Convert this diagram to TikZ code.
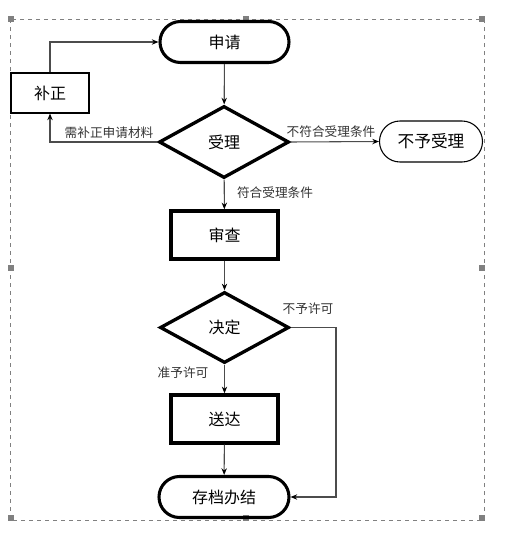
\documentclass[tikz,border=0pt]{standalone}
\usepackage{fontspec}
\newfontfamily\cjk{Noto Sans CJK SC}
\usetikzlibrary{shapes.geometric,shapes.misc,arrows.meta}

\tikzset{
  term/.style={rounded rectangle,draw,line width=2.3pt,font=\cjk\fontsize{12}{14}\selectfont,minimum width=96.75pt,minimum height=30.75pt,inner sep=0pt},
  procbox/.style={rectangle,draw,line width=2.6pt,font=\cjk\fontsize{12}{14}\selectfont,minimum width=80.25pt,minimum height=36pt,inner sep=0pt},
  decide/.style={diamond,draw,line width=2.5pt,font=\cjk\fontsize{12}{14}\selectfont,minimum width=97.5pt,minimum height=54pt,inner sep=0pt},
  lbl/.style={font=\cjk\fontsize{9.5}{11}\selectfont,inner sep=0pt,text=black!80},
  flow/.style={draw=black!70,line width=0.8pt,-{Stealth[length=5pt,width=4pt,color=black]}},
  handle/.style={fill=black!50,minimum size=4pt,inner sep=0pt}
}

\begin{document}
\begin{tikzpicture}[x=0.75pt,y=-0.75pt]
\useasboundingbox (0,0) rectangle (524,546);
\draw[black!50,dashed,line width=0.5pt] (10,19) rectangle (484,520);
\foreach \x/\y in {11/19,246/19,482/19,11/268,482/268,11/518,246/518,482/518} {
	\node[handle] at (\x,\y) {};
}
\node[term] (sq) at (224.5,42) {申请};
\node[rectangle,draw,line width=0.8pt,font=\cjk\fontsize{12}{14}\selectfont,minimum width=58.5pt,minimum height=30pt] (bz) at (50,93) {补正};
\node[decide] (sl) at (224,142) {受理};
\node[rounded rectangle,draw,line width=0.8pt,font=\cjk\fontsize{12.5}{14}\selectfont,minimum width=77.25pt,minimum height=30.75pt,inner sep=0pt] (bysl) at (431,141.5) {不予受理};
\node[procbox] (sc) at (224.5,235) {审查};
\node[decide,minimum width=96.75pt,minimum height=53.25pt] (jd) at (224.5,327.5) {决定};
\node[procbox] (sd) at (224.5,419) {送达};
\node[term,minimum width=97.5pt] (cd) at (224,497) {存档办结};
\coordinate (turn) at (336,327.5);
\draw[flow] (sq) -- (sl);
\draw[flow] (sl) -- (sc);
\draw[flow] (sc) -- (jd);
\draw[flow] (jd) -- (sd);
\draw[flow] (sd) -- (cd);
\draw[flow] (sl.east) -- (bysl.west);
\draw[flow] (sl.west) -| (bz.south);
\draw[flow] (bz.north) |- (sq.west);
\draw[flow] (jd.east) -| (turn) |- (cd.east);
\node[lbl] at (109,133) {需补正申请材料};
\node[lbl] at (331,132) {不符合受理条件};
\node[lbl] at (275,193) {符合受理条件};
\node[lbl] at (308,309) {不予许可};
\node[lbl] at (183,373) {准予许可};
\end{tikzpicture}
\end{document}
